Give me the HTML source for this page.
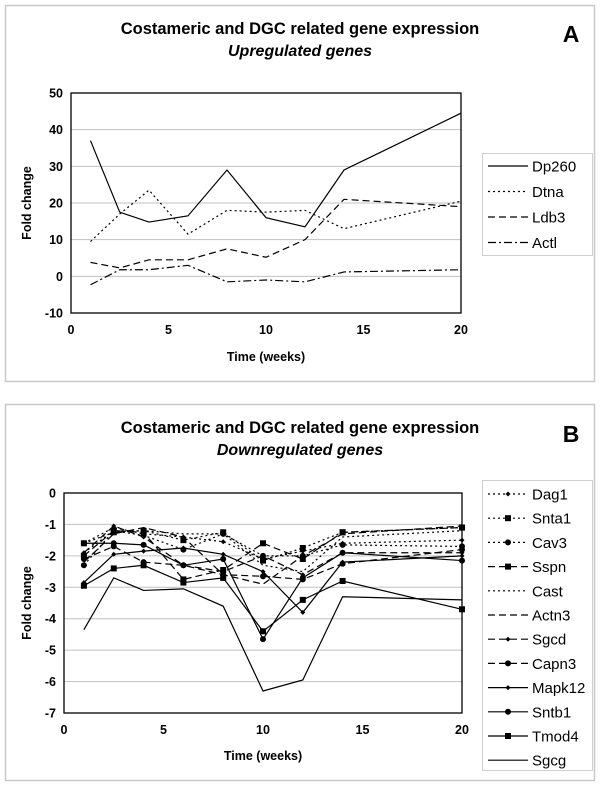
<!DOCTYPE html>
<html><head><meta charset="utf-8"><style>
body{margin:0;background:#fff;font-family:"Liberation Sans",Arial,sans-serif;}
svg{display:block}
</style></head><body>
<svg id="chart" width="600" height="786" xmlns="http://www.w3.org/2000/svg"></svg>
<script>
// Panel A data
const xA = [1, 2.5, 4, 6, 8, 10, 12, 14, 20];
const namesA = ["Dp260", "Dtna", "Ldb3", "Actl"];
const dp260 = [37, 17.5, 14.8, 16.5, 29, 16, 13.5, 29, 44.5];
const dtna = [9.5, 17, 23.5, 11.5, 18, 17.5, 18, 13, 20.5];
const ldb3 = [3.8, 2.3, 4.5, 4.5, 7.5, 5.2, 10, 21, 19];
const actl = [-2.3, 1.8, 1.8, 3, -1.5, -1, -1.5, 1.2, 1.8];
const yTicksA = [50, 40, 30, 20, 10, 0, -10];
const xTicks = [0, 5, 10, 15, 20];
// Panel B data
const xB = [1, 2.5, 4, 6, 8, 10, 12, 14, 20];
const namesB = ["Dag1","Snta1","Cav3","Sspn","Cast","Actn3","Sgcd","Capn3","Mapk12","Sntb1","Tmod4","Sgcg"];
const dag1 = [-1.6, -1.1, -1.3, -1.4, -1.55, -2.1, -1.85, -1.6, -1.5];
const snta1 = [-1.6, -1.25, -1.2, -1.5, -1.25, -2.15, -1.75, -1.25, -1.1];
const cav3 = [-2.3, -1.2, -1.35, -1.8, -1.3, -2.0, -2.0, -1.65, -1.7];
const sspn = [-2.0, -1.2, -1.25, -2.75, -2.45, -1.6, -2.1, -1.25, -1.1];
const cast = [-1.9, -1.2, -1.2, -1.3, -1.3, -2.3, -2.5, -1.4, -1.2];
const actn3 = [-2.2, -1.3, -1.1, -1.4, -2.6, -2.9, -2.0, -1.3, -1.05];
const sgcd = [-1.9, -1.05, -1.4, -2.3, -2.5, -2.0, -2.6, -1.9, -1.9];
const capn3 = [-2.1, -1.7, -2.2, -2.3, -2.6, -2.65, -2.75, -2.25, -1.8];
const mapk12 = [-2.85, -1.95, -1.85, -1.75, -1.95, -2.5, -3.8, -2.2, -2.0];
const sntb1 = [-1.6, -1.6, -1.65, -2.3, -2.1, -4.65, -2.7, -1.9, -2.15];
const tmod4 = [-2.95, -2.4, -2.3, -2.85, -2.7, -4.4, -3.4, -2.8, -3.7];
const sgcg = [-4.35, -2.7, -3.1, -3.05, -3.6, -6.3, -5.95, -3.3, -3.4];
const yTicksB = [0, -1, -2, -3, -4, -5, -6, -7];

const NS = "http://www.w3.org/2000/svg";
const svg = document.getElementById("chart");
function el(tag, attrs, parent, text){
  const e = document.createElementNS(NS, tag);
  for (const k in attrs) e.setAttribute(k, attrs[k]);
  if (text !== undefined) e.textContent = text;
  (parent || svg).appendChild(e);
  return e;
}

function panel(cfg){
  const g = el("g", {});
  
  
  const box = el("rect", {x:5.5, y:cfg.boxTop+0.5, width:589, height:cfg.boxBottom-cfg.boxTop, fill:"none", stroke:"#c8c8c8", "stroke-width":1.5}, g);
  
  
  const t1 = el("text", {x:300, y:cfg.titleY, "text-anchor":"middle", "font-size":"16.5", "font-weight":"bold"}, g, "Costameric and DGC related gene expression");
  
  
  const t2 = el("text", {x:300, y:cfg.titleY+22, "text-anchor":"middle", "font-size":"16", "font-weight":"bold", "font-style":"italic"}, g, cfg.subtitle);
  
  
  const lt = el("text", {x:571, y:cfg.letterY, "text-anchor":"middle", "font-size":"23", "font-weight":"bold"}, g, cfg.letter);
  
  

  const L = cfg.left, R = cfg.right, T = cfg.top, B = cfg.bottom;
  const yMax = cfg.yTicks[0], yMin = cfg.yTicks[cfg.yTicks.length-1];
  const sx = v => L + (v - 0) / 20 * (R - L);
  const sy = v => T + (yMax - v) / (yMax - yMin) * (B - T);

  cfg.yTicks.forEach(v => {
    if (v !== yMax && v !== yMin) {
      const gl = el("line", {x1:L, x2:R, y1:sy(v), y2:sy(v), stroke:"#c0c0c0", "stroke-width":1}, g);
      
      
    }
    const tk = el("text", {x:L-8, y:sy(v)+4.5, "text-anchor":"end", "font-size":"12.5", "font-weight":"bold"}, g, String(v));
    
    
  });
  xTicks.forEach(v => {
    const tk = el("text", {x:sx(v), y:B+21, "text-anchor":"middle", "font-size":"12.5", "font-weight":"bold"}, g, String(v));
    
    
  });
  const pa = el("rect", {x:L, y:T, width:R-L, height:B-T, fill:"none", stroke:"#000", "stroke-width":1.3}, g);
  
  
  const xt = el("text", {x:(L+R)/2, y:cfg.xTitleY, "text-anchor":"middle", "font-size":"12.5", "font-weight":"bold"}, g, "Time (weeks)");
  
  
  const yc = (T+B)/2;
  const yt = el("text", {x:31, y:yc, "text-anchor":"middle", "font-size":"12.5", "font-weight":"bold", transform:`rotate(-90 31 ${yc})`}, g, "Fold change");
  
  

  function marker(parent, type, x, y){
    if (type === "square") el("rect", {x:x-3, y:y-3, width:6, height:6, fill:"#000"}, parent);
    else if (type === "circle") el("circle", {cx:x, cy:y, r:3, fill:"#000"}, parent);
    else if (type === "diamond") el("polygon", {points:`${x},${y-2.5} ${x+2.5},${y} ${x},${y+2.5} ${x-2.5},${y}`, fill:"#000"}, parent);
  }

  cfg.series.forEach((s, i) => {
    const sg = el("g", {}, g);
    
    
    const pts = cfg.xs.map((x, j) => sx(x) + "," + sy(s.values[j])).join(" ");
    el("polyline", {points:pts, fill:"none", stroke:"#000", "stroke-width":1.2, "stroke-dasharray":s.dash}, sg);
    if (s.marker) cfg.xs.forEach((x, j) => marker(sg, s.marker, sx(x), sy(s.values[j])));
    const ly = cfg.legY + i * cfg.legStep;
    const le = el("g", {}, g);
    
    
    el("line", {x1:488, x2:528, y1:ly, y2:ly, stroke:"#000", "stroke-width":1.2, "stroke-dasharray":s.dash}, le);
    if (s.marker) marker(le, s.marker, 508, ly);
    el("text", {x:532, y:ly+5.5, "font-size":"15"}, le, s.name);
  });
  const lb = el("rect", {x:482.5, y:cfg.legTop+0.5, width:110, height:cfg.legBottom-cfg.legTop, fill:"none", stroke:"#d0d0d0", "stroke-width":1}, g);
  
  
}

const dotted = "2,3", dashed = "7,4", dashdot = "8,3,2,3";
panel({
  id:"upregulated", letter:"A", subtitle:"Upregulated genes",
  boxTop:5, boxBottom:381, titleY:34, letterY:42,
  left:71, right:461, top:93, bottom:313, xTitleY:361,
  yTicks:yTicksA, xs:xA,
  legTop:153, legBottom:255, legY:166, legStep:25.5,
  series:[
    {name:namesA[0], values:dp260, dash:"none"},
    {name:namesA[1], values:dtna, dash:dotted},
    {name:namesA[2], values:ldb3, dash:dashed},
    {name:namesA[3], values:actl, dash:dashdot}
  ]
});
panel({
  id:"downregulated", letter:"B", subtitle:"Downregulated genes",
  boxTop:404, boxBottom:780, titleY:433, letterY:442,
  left:64, right:462, top:493, bottom:713, xTitleY:760,
  yTicks:yTicksB, xs:xB,
  legTop:480, legBottom:770, legY:494, legStep:24.2,
  series:[
    {name:namesB[0], values:dag1, dash:dotted, marker:"diamond"},
    {name:namesB[1], values:snta1, dash:dotted, marker:"square"},
    {name:namesB[2], values:cav3, dash:dotted, marker:"circle"},
    {name:namesB[3], values:sspn, dash:dashed, marker:"square"},
    {name:namesB[4], values:cast, dash:dotted},
    {name:namesB[5], values:actn3, dash:dashed},
    {name:namesB[6], values:sgcd, dash:dashed, marker:"diamond"},
    {name:namesB[7], values:capn3, dash:dashed, marker:"circle"},
    {name:namesB[8], values:mapk12, dash:"none", marker:"diamond"},
    {name:namesB[9], values:sntb1, dash:"none", marker:"circle"},
    {name:namesB[10], values:tmod4, dash:"none", marker:"square"},
    {name:namesB[11], values:sgcg, dash:"none"}
  ]
});
</script>
</body></html>
